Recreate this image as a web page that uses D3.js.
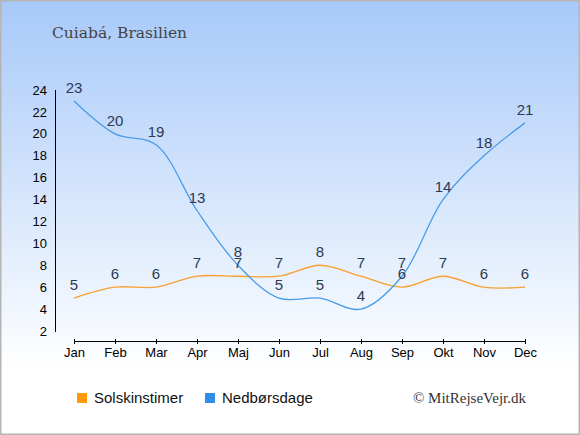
<!DOCTYPE html>
<html>
<head>
<meta charset="utf-8">
<style>
body { margin: 0; padding: 0; background: #fff; }
svg { display: block; }
.axis text { font-family: "Liberation Sans", Arial, sans-serif; font-size: 13px; fill: #000; }
.axis path, .axis line { stroke: #000; stroke-width: 1; }
.val { font-family: "Liberation Sans", Arial, sans-serif; font-size: 15px; fill: #2b3a55; text-anchor: middle; }
.legend { font-family: "Liberation Sans", Arial, sans-serif; font-size: 15px; fill: #111; }
</style>
</head>
<body>

<svg id="chart" width="580" height="435"></svg>

<script src="https://d3js.org/d3.v7.min.js"></script>
<script>

var months = ["Jan", "Feb", "Mar", "Apr", "Maj", "Jun", "Jul", "Aug", "Sep", "Okt", "Nov", "Dec"];
var sunHours = [5, 6, 6, 7, 7, 7, 8, 7, 6, 7, 6, 6];
var rainDays = [23, 20, 19, 13, 8, 5, 5, 4, 7, 14, 18, 21];
var yTicks = [2, 4, 6, 8, 10, 12, 14, 16, 18, 20, 22, 24];

var svg = d3.select("#chart");

// background gradient
var defs = svg.append("defs");
var grad = defs.append("linearGradient")
    .attr("id", "bg")
    .attr("x1", 0).attr("y1", 0).attr("x2", 0).attr("y2", 1);
grad.append("stop").attr("offset", "0%").attr("stop-color", "#a7c9f9");
grad.append("stop").attr("offset", "85%").attr("stop-color", "#ffffff");
grad.append("stop").attr("offset", "100%").attr("stop-color", "#ffffff");

svg.append("rect")
    .attr("x", 0.75).attr("y", 0.75)
    .attr("width", 578.5).attr("height", 433.5)
    .attr("fill", "url(#bg)")
    .attr("stroke", "#b5b5b5")
    .attr("stroke-width", 1.5);

// title
svg.append("text")
    .attr("x", 52).attr("y", 38)
    .attr("font-family", "'DejaVu Serif', serif")
    .attr("font-size", 15.5)
    .attr("fill", "#444")
    .text("Cuiabá, Brasilien");

// scales
var xScale = d3.scalePoint()
    .domain(months)
    .range([74, 525]);

var yScale = d3.scaleLinear()
    .domain([2, 24])
    .range([331, 90]);

// y-axis
svg.append("g")
    .attr("class", "axis axis-y")
    .attr("transform", "translate(55,0)")
    .call(d3.axisLeft(yScale).tickValues(yTicks).tickSize(4).tickSizeOuter(0).tickPadding(4))
    .call(function(g) { g.selectAll(".tick line").attr("x2", 1); });

// x-axis
svg.append("g")
    .attr("class", "axis axis-x")
    .attr("transform", "translate(0,341)")
    .call(d3.axisBottom(xScale).tickSize(3).tickSizeOuter(0).tickPadding(4))
    .call(function(g) {
        g.select(".domain").attr("d", "M" + xScale("Jan") + ",0.5H" + xScale("Dec"));
        g.selectAll(".tick line").attr("y1", -2);
    });

var line = d3.line()
    .x(function(d, i) { return xScale(months[i]); })
    .y(function(d) { return yScale(d); })
    .curve(d3.curveCatmullRom);

svg.append("path")
    .datum(sunHours)
    .attr("fill", "none")
    .attr("stroke", "#f8a030")
    .attr("stroke-width", 1.3)
    .attr("d", line);

svg.append("path")
    .datum(rainDays)
    .attr("fill", "none")
    .attr("stroke", "#4a9ce8")
    .attr("stroke-width", 1.3)
    .attr("d", line);

// value labels (they overlap in the original too, at Maj and Sep)
svg.append("g").selectAll("text")
    .data(sunHours)
    .enter()
    .append("text")
    .attr("class", "val")
    .attr("x", function(d, i) { return xScale(months[i]); })
    .attr("y", function(d) { return yScale(d) - 8; })
    .text(function(d) { return d; });

svg.append("g").selectAll("text")
    .data(rainDays)
    .enter()
    .append("text")
    .attr("class", "val")
    .attr("x", function(d, i) { return xScale(months[i]); })
    .attr("y", function(d) { return yScale(d) - 8; })
    .text(function(d) { return d; });

// legend
var legend = [
    {name: "Solskinstimer", color: "#ff9a00", x: 77},
    {name: "Nedbørsdage", color: "#2f8fe6", x: 205}
];
var lg = svg.append("g").selectAll("g")
    .data(legend)
    .enter()
    .append("g");
lg.append("rect")
    .attr("x", function(d) { return d.x; })
    .attr("y", 393)
    .attr("width", 10).attr("height", 10)
    .attr("fill", function(d) { return d.color; });
lg.append("text")
    .attr("class", "legend")
    .attr("x", function(d) { return d.x + 17; })
    .attr("y", 403)
    .text(function(d) { return d.name; });

svg.append("text")
    .attr("x", 526).attr("y", 403)
    .attr("text-anchor", "end")
    .attr("font-family", "'Liberation Serif', serif")
    .attr("font-size", 15)
    .attr("fill", "#333")
    .text("© MitRejseVejr.dk");

</script>
</body>
</html>
